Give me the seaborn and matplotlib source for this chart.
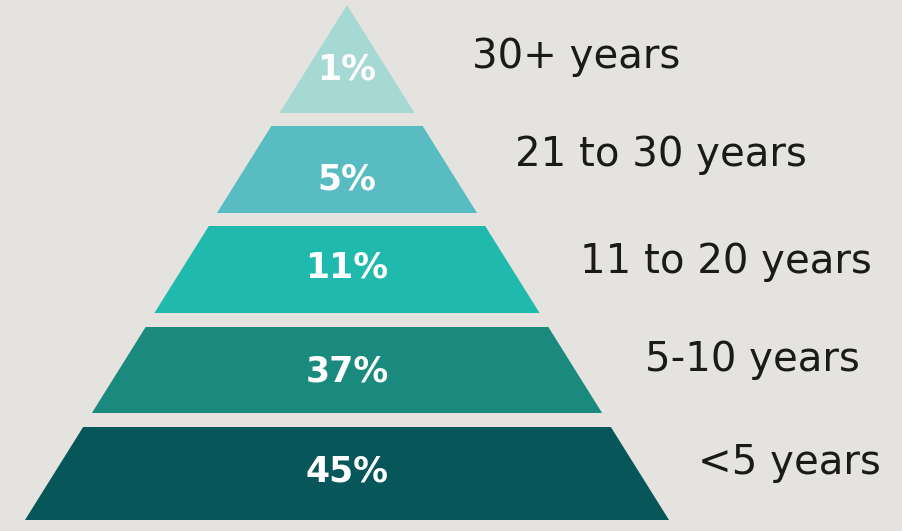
import matplotlib
matplotlib.use("Agg")
import matplotlib.pyplot as plt
import seaborn as sns

# ---- data ----
categories = ["30+ years", "21 to 30 years", "11 to 20 years", "5-10 years", "<5 years"]
shares = [1, 5, 11, 37, 45]
value_labels = ["1%", "5%", "11%", "37%", "45%"]
colors = ["#A6D9D3", "#58BCC2", "#20B9AD", "#198A7D", "#07565A"]

# ---- layout (pixel-like units) ----
W, H = 903, 531
apex_x, apex_y = 347, 5
base_y, half_base = 520, 322
band_tops = [5, 126, 226, 327, 427]
band_bottoms = [113, 213, 313, 413, 520]
label_x = [472, 515, 580, 645, 698]
label_y = [57, 155, 262, 360, 463]
pct_y = [69, 179, 268, 371, 471]
bg = "#E4E3DF"

sns.set_theme(style="white")
plt.rcParams["font.family"] = ["DejaVu Sans"]

fig = plt.figure(figsize=(W / 100, H / 100), dpi=100, facecolor=bg)
ax = fig.add_axes([0, 0, 1, 1])
ax.set_facecolor(bg)
ax.set_xlim(0, W)
ax.set_ylim(H, 0)


def half_width(y):
    return (y - apex_y) / (base_y - apex_y) * half_base


for i, cat in enumerate(categories):
    t, b = band_tops[i], band_bottoms[i]
    ht, hb = half_width(t), half_width(b)
    xs = [apex_x - ht, apex_x + ht, apex_x + hb, apex_x - hb]
    ys = [t, t, b, b]
    ax.fill(xs, ys, color=colors[i], lw=0)
    ax.text(apex_x, pct_y[i], value_labels[i], color="white", fontsize=25,
            fontweight="bold", ha="center", va="center")
    ax.text(label_x[i], label_y[i], cat, color="#1a1a1a", fontsize=29,
            ha="left", va="center")

ax.set_axis_off()
sns.despine(ax=ax, left=True, bottom=True)
fig.savefig("out.png", dpi=100, facecolor=bg)
